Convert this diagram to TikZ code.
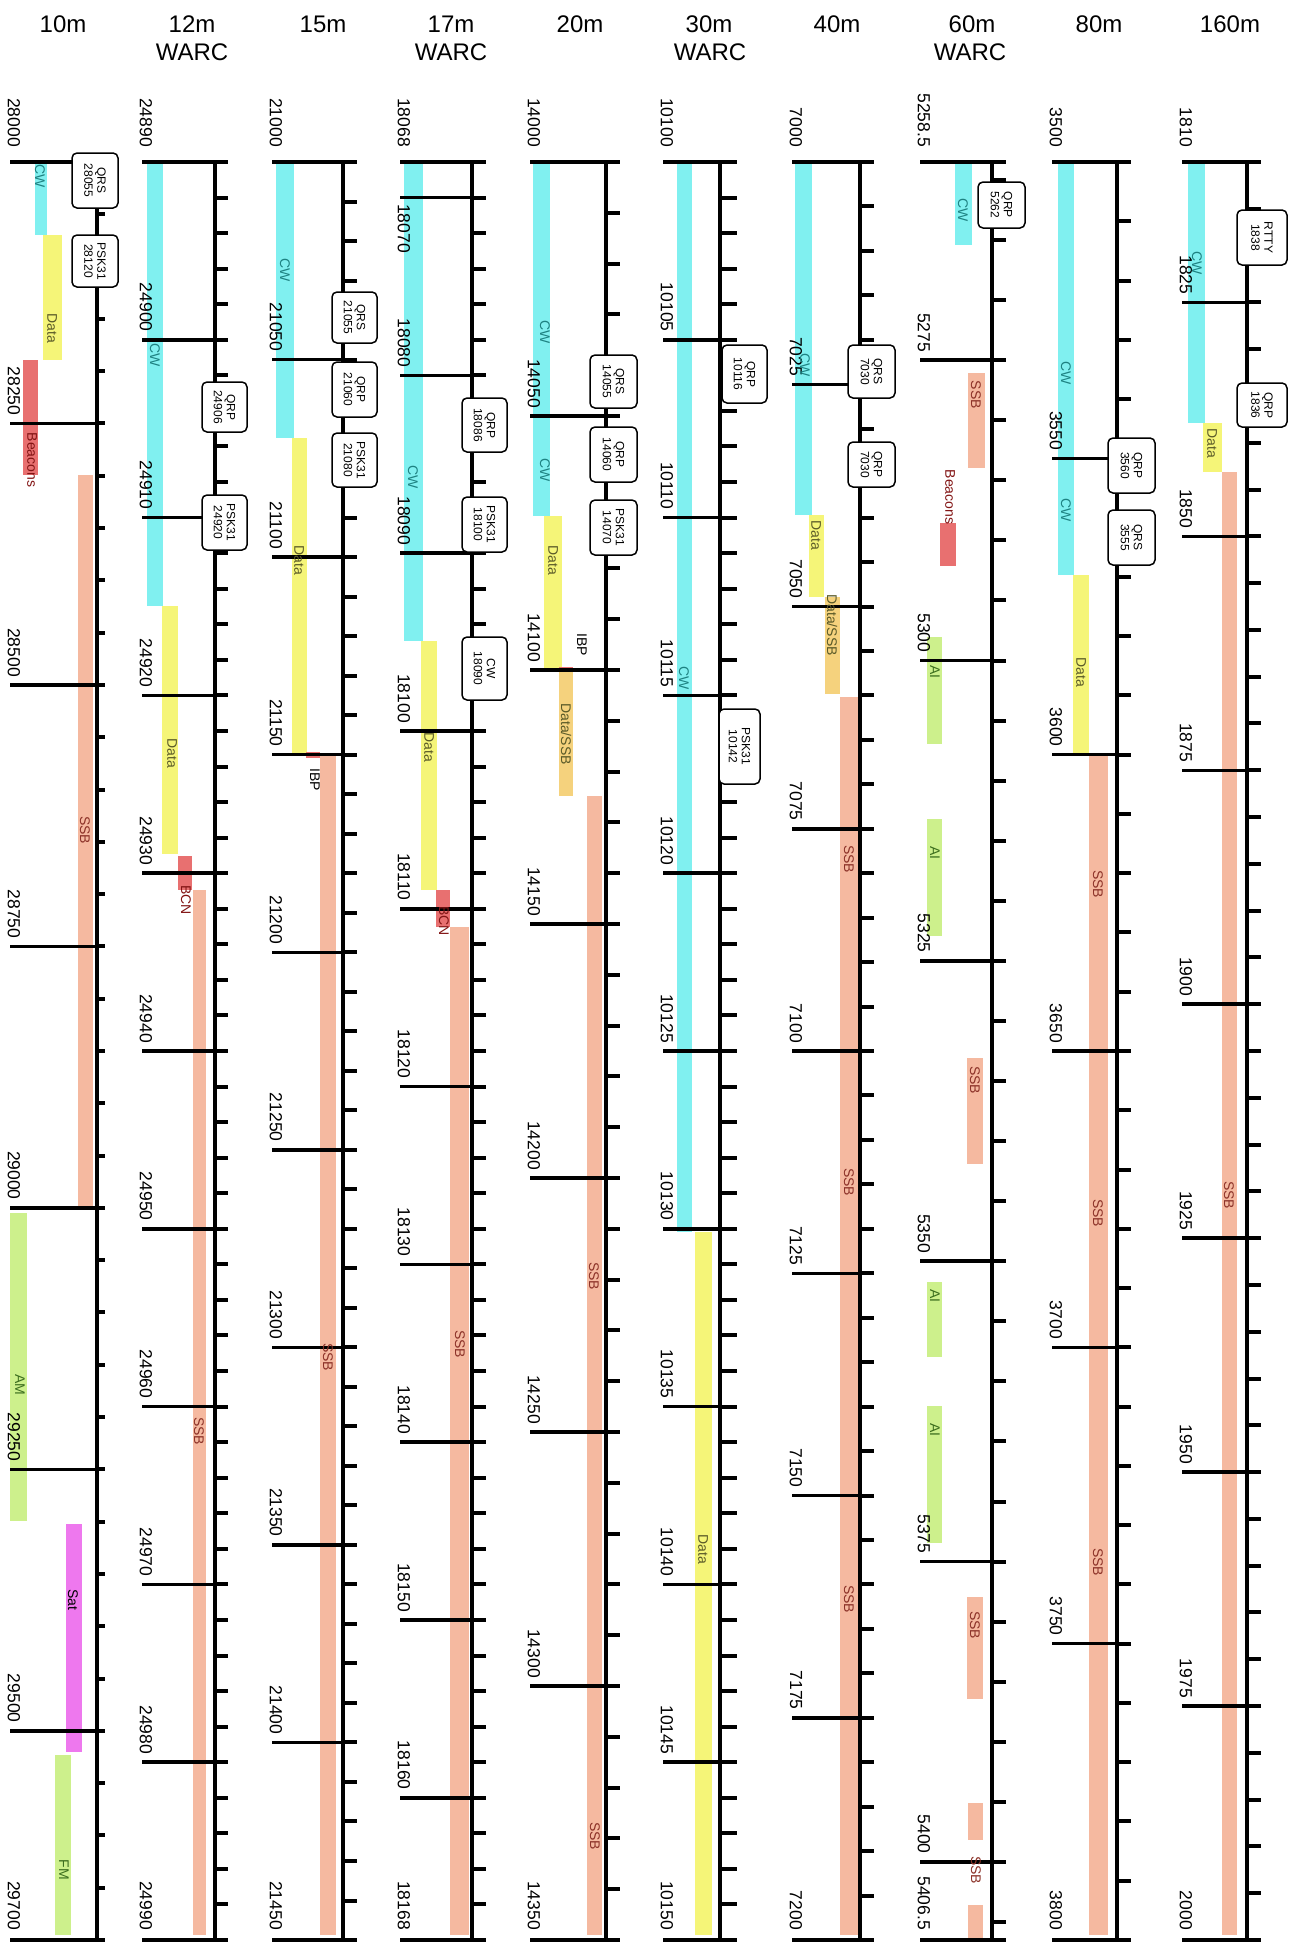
\documentclass[tikz,border=0pt]{standalone}
\usepackage{fontspec}
\setmainfont{Liberation Sans}
\setsansfont{Liberation Sans}
\definecolor{cwc}{RGB}{128,240,240}
\definecolor{dac}{RGB}{245,245,120}
\definecolor{ssc}{RGB}{245,185,160}
\definecolor{bcc}{RGB}{232,112,112}
\definecolor{amc}{RGB}{205,240,140}
\definecolor{stc}{RGB}{238,120,238}
\definecolor{dsc}{RGB}{245,210,125}
\definecolor{cwt}{RGB}{30,130,130}
\definecolor{sst}{RGB}{140,50,40}
\definecolor{bct}{RGB}{130,20,20}
\definecolor{dat}{RGB}{90,90,40}
\definecolor{amt}{RGB}{60,110,30}
\newcommand\mj[4]{\draw[mjl] (#1,#3) -- (#2,#3); \node[flab,anchor=east] at (#1+4,#3-8) {#4};}
\newcommand\qb[5]{\draw[qbox] (#1,#2) rectangle (#3,#4); \node[btxt] at ({(#1+#3)/2},{(#2+#4)/2}) {#5};}
\newcommand\colframe[6]{% axis x, left x, tick len, scale, minor list, top label
  \draw[edge] (#2,162) -- (#1+#3,162);
  \draw[edge] (#2,1940) -- (#1+#3,1940);
  \draw[axl] (#1,162) -- (#1,1940);
  \foreach \d in {#5} \draw[tk] (#1,{162+\d*#4}) -- ++(#3,0);
  \node[flab,anchor=east] at (#2+4,147) {#6};}
\begin{document}
\begin{tikzpicture}[x=1pt,y=-1pt,
  axl/.style={line width=4pt},
  edge/.style={line width=4pt},
  mjl/.style={line width=3.5pt},
  tk/.style={line width=4pt},
  head/.style={font=\fontsize{24}{26}\selectfont, inner sep=0pt},
  flab/.style={font=\fontsize{17.5}{18}\selectfont, rotate=-90, inner sep=0pt},
  blab/.style={font=\fontsize{14}{14}\selectfont, rotate=-90, inner sep=0pt},
  qbox/.style={draw, fill=white, rounded corners=5pt, line width=1.5pt},
  btxt/.style={font=\fontsize{12}{13}\selectfont, rotate=-90, align=center, inner sep=0pt},
]
\fill[white] (0,0) rectangle (1293,1951);
% headings
\node[head] (h10) at (63,24) {10m};
\node[head] (h12) at (192,24) {12m};
\node[head] (w12) at (192,52) {WARC};
\node[head] (h15) at (323,24) {15m};
\node[head] (h17) at (451,24) {17m};
\node[head] (w17) at (451,52) {WARC};
\node[head] (h20) at (580,24) {20m};
\node[head] (h30) at (709,24) {30m};
\node[head] (w30) at (710,52) {WARC};
\node[head] (h40) at (837,24) {40m};
\node[head] (h60) at (972,24) {60m};
\node[head] (w60) at (970,52) {WARC};
\node[head] (h80) at (1099,24) {80m};
\node[head] (h160) at (1230,24) {160m};

% ================= bars =================
% 10m
\fill[cwc] (35,162) rectangle (47,235);
\fill[dac] (43,235) rectangle (62,360);
\fill[bcc] (23,360) rectangle (38,475);
\fill[ssc] (78,475) rectangle (93,1208);
\fill[amc] (10,1213) rectangle (27,1521);
\fill[stc] (66,1524) rectangle (82,1752);
\fill[amc] (55,1755) rectangle (71,1935);
% 12m
\fill[cwc] (147,162) rectangle (163,606);
\fill[dac] (162,606) rectangle (178,854);
\fill[bcc] (178,856) rectangle (192,890);
\fill[ssc] (193,890) rectangle (206,1935);
% 15m
\fill[cwc] (276,162) rectangle (294,438);
\fill[dac] (292,438) rectangle (307,753);
\fill[bcc] (306,752) rectangle (320,758);
\fill[ssc] (320,755) rectangle (336,1935);
% 17m
\fill[cwc] (404,162) rectangle (423,641);
\fill[dac] (421,641) rectangle (437,890);
\fill[bcc] (436,890) rectangle (450,927);
\fill[ssc] (450,927) rectangle (469,1935);
% 20m
\fill[cwc] (533,162) rectangle (550,516);
\fill[dac] (544,516) rectangle (562,670);
\fill[bcc] (559,667) rectangle (573,673);
\fill[dsc] (559,672) rectangle (573,796);
\fill[ssc] (587,796) rectangle (602,1935);
% 30m
\fill[cwc] (677,162) rectangle (692,1232);
\fill[dac] (695,1232) rectangle (712,1935);
% 40m
\fill[cwc] (795,162) rectangle (812,515);
\fill[dac] (809,515) rectangle (824,597);
\fill[dsc] (825,597) rectangle (840,694);
\fill[ssc] (840,697) rectangle (858,1935);
% 60m
\fill[cwc] (955,162) rectangle (972,245);
\fill[ssc] (968,373) rectangle (985,468);
\fill[bcc] (940,523) rectangle (956,566);
\fill[amc] (927,637) rectangle (942,744);
\fill[amc] (927,819) rectangle (942,936);
\fill[ssc] (967,1058) rectangle (983,1164);
\fill[amc] (927,1282) rectangle (942,1357);
\fill[amc] (927,1406) rectangle (942,1543);
\fill[ssc] (967,1597) rectangle (983,1699);
\fill[ssc] (968,1803) rectangle (983,1840);
\fill[ssc] (968,1905) rectangle (983,1940);
% 80m
\fill[cwc] (1058,162) rectangle (1074,575);
\fill[dac] (1073,575) rectangle (1089,753);
\fill[ssc] (1089,755) rectangle (1108,1935);
% 160m
\fill[cwc] (1188,162) rectangle (1205,423);
\fill[dac] (1203,423) rectangle (1222,472);
\fill[ssc] (1222,472) rectangle (1237,1935);

% ================= frames =================
\colframe{97}{10}{8}{1.045882}{50,100,...,1650}{28000}
\colframe{215}{142}{13}{17.78}{2,4,...,98}{24890}
\colframe{343}{272}{14}{3.951111}{10,20,...,440}{21000}
\colframe{472}{400}{14}{17.78}{2,4,...,98}{18068}
\colframe{606}{530}{14}{5.08}{10,20,...,340}{14000}
\colframe{720}{663}{17}{35.56}{1,2,...,49}{10100}
\colframe{860}{792}{14}{8.89}{5,10,...,195}{7000}
\colframe{992}{920}{14}{12.01351}{1.5,6.5,...,146.5}{5258.5}
\colframe{1117}{1052}{14}{5.926667}{10,20,...,290}{3500}
\colframe{1247}{1182}{14}{9.357895}{5,10,...,185}{1810}

% ================= majors =================
% 10m
\mj{10}{105}{423.5}{28250}
\mj{10}{105}{685}{28500}
\mj{10}{105}{946.4}{28750}
\mj{10}{105}{1207.9}{29000}
\mj{10}{105}{1469.4}{29250}
\mj{10}{105}{1730.8}{29500}
\node[flab,anchor=east] at (14,1930) {29700};
% 12m
\mj{142}{228}{339.8}{24900}
\mj{142}{228}{517.6}{24910}
\mj{142}{228}{695.4}{24920}
\mj{142}{228}{873.2}{24930}
\mj{142}{228}{1051}{24940}
\mj{142}{228}{1228.8}{24950}
\mj{142}{228}{1406.6}{24960}
\mj{142}{228}{1584.4}{24970}
\mj{142}{228}{1762.2}{24980}
\node[flab,anchor=east] at (146,1930) {24990};
% 15m
\mj{272}{357}{359.6}{21050}
\mj{272}{357}{557.1}{21100}
\mj{272}{357}{754.7}{21150}
\mj{272}{357}{952.3}{21200}
\mj{272}{357}{1149.8}{21250}
\mj{272}{357}{1347.3}{21300}
\mj{272}{357}{1544.9}{21350}
\mj{272}{357}{1742.4}{21400}
\node[flab,anchor=east] at (276,1930) {21450};
% 17m
\draw[mjl] (400,197.6) -- (486,197.6);
\node[flab,anchor=west] at (404,204) {18070};
\mj{400}{486}{375.4}{18080}
\mj{400}{486}{553.2}{18090}
\mj{400}{486}{731}{18100}
\mj{400}{486}{908.8}{18110}
\mj{400}{486}{1086.6}{18120}
\mj{400}{486}{1264.4}{18130}
\mj{400}{486}{1442.2}{18140}
\mj{400}{486}{1620}{18150}
\mj{400}{486}{1797.8}{18160}
\node[flab,anchor=east] at (404,1930) {18168};
% 20m
\mj{530}{620}{416}{14050}
\mj{530}{620}{670}{14100}
\mj{530}{620}{924}{14150}
\mj{530}{620}{1178}{14200}
\mj{530}{620}{1432}{14250}
\mj{530}{620}{1686}{14300}
\node[flab,anchor=east] at (534,1930) {14350};
% 30m
\mj{663}{737}{339.8}{10105}
\mj{663}{737}{517.6}{10110}
\mj{663}{737}{695.4}{10115}
\mj{663}{737}{873.2}{10120}
\mj{663}{737}{1051}{10125}
\mj{663}{737}{1228.8}{10130}
\mj{663}{737}{1406.6}{10135}
\mj{663}{737}{1584.4}{10140}
\mj{663}{737}{1762.2}{10145}
\node[flab,anchor=east] at (667,1930) {10150};
% 40m
\mj{792}{874}{384.25}{7025}
\mj{792}{874}{606.5}{7050}
\mj{792}{874}{828.75}{7075}
\mj{792}{874}{1051}{7100}
\mj{792}{874}{1273.25}{7125}
\mj{792}{874}{1495.5}{7150}
\mj{792}{874}{1717.75}{7175}
\node[flab,anchor=east] at (796,1930) {7200};
% 60m
\mj{920}{1006}{360.2}{5275}
\mj{920}{1006}{660.6}{5300}
\mj{920}{1006}{960.9}{5325}
\mj{920}{1006}{1261.2}{5350}
\mj{920}{1006}{1561.6}{5375}
\mj{920}{1006}{1861.9}{5400}
\node[flab,anchor=east] at (924,1930) {5406.5};
% 80m
\mj{1052}{1131}{458.3}{3550}
\mj{1052}{1131}{754.7}{3600}
\mj{1052}{1131}{1051}{3650}
\mj{1052}{1131}{1347.3}{3700}
\mj{1052}{1131}{1643.7}{3750}
\node[flab,anchor=east] at (1056,1930) {3800};
% 160m
\mj{1182}{1261}{302.4}{1825}
\mj{1182}{1261}{536.3}{1850}
\mj{1182}{1261}{770.3}{1875}
\mj{1182}{1261}{1004.2}{1900}
\mj{1182}{1261}{1238.2}{1925}
\mj{1182}{1261}{1472.1}{1950}
\mj{1182}{1261}{1706.1}{1975}
\node[flab,anchor=east] at (1186,1930) {2000};

% ================= bar labels =================
\node[blab,text=cwt] at (40,176) {CW};
\node[blab,text=dat] at (52,328) {Data};
\node[blab,text=bct] at (32,460) {Beacons};
\node[blab,text=sst] at (85,830) {SSB};
\node[blab,text=amt] at (20,1385) {AM};
\node[blab,text=black] at (73,1600) {Sat};
\node[blab,text=amt] at (64,1870) {FM};
\node[blab,text=cwt] at (155,355) {CW};
\node[blab,text=dat] at (172,753) {Data};
\node[blab,text=bct] at (186,900) {BCN};
\node[blab,text=sst] at (199,1431) {SSB};
\node[blab,text=cwt] at (285,270) {CW};
\node[blab,text=dat] at (299,560) {Data};
\node[blab,text=black] at (315,780) {IBP};
\node[blab,text=sst] at (328,1357) {SSB};
\node[blab,text=cwt] at (413,477) {CW};
\node[blab,text=dat] at (429,747) {Data};
\node[blab,text=bct] at (444,921) {BCN};
\node[blab,text=sst] at (460,1344) {SSB};
\node[blab,text=cwt] at (545,332) {CW};
\node[blab,text=cwt] at (545,470) {CW};
\node[blab,text=dat] at (553,560) {Data};
\node[blab,text=black] at (582,645) {IBP};
\node[blab,text=dat] at (566,734) {Data/SSB};
\node[blab,text=sst] at (594,1276) {SSB};
\node[blab,text=sst] at (595,1836) {SSB};
\node[blab,text=cwt] at (684,678) {CW};
\node[blab,text=dat] at (703,1549) {Data};
\node[blab,text=cwt] at (805,365) {CW};
\node[blab,text=dat] at (816,535) {Data};
\node[blab,text=dat] at (832,625) {Data/SSB};
\node[blab,text=sst] at (849,859) {SSB};
\node[blab,text=sst] at (849,1182) {SSB};
\node[blab,text=sst] at (849,1599) {SSB};
\node[blab,text=cwt] at (963,210) {CW};
\node[blab,text=sst] at (976,395) {SSB};
\node[blab,text=bct] at (950,497) {Beacons};
\node[blab,text=amt] at (935,672) {AI};
\node[blab,text=amt] at (935,853) {AI};
\node[blab,text=sst] at (975,1080) {SSB};
\node[blab,text=amt] at (935,1296) {AI};
\node[blab,text=amt] at (935,1430) {AI};
\node[blab,text=sst] at (975,1625) {SSB};
\node[blab,text=sst] at (976,1870) {SSB};
\node[blab,text=cwt] at (1066,373) {CW};
\node[blab,text=cwt] at (1066,510) {CW};
\node[blab,text=dat] at (1081,672) {Data};
\node[blab,text=sst] at (1098,884) {SSB};
\node[blab,text=sst] at (1098,1213) {SSB};
\node[blab,text=sst] at (1098,1562) {SSB};
\node[blab,text=cwt] at (1197,263) {CW};
\node[blab,text=dat] at (1212,443) {Data};
\node[blab,text=sst] at (1229,1195) {SSB};

% ================= boxes =================
\qb{72}{153}{118}{208}{QRS\\28055}
\qb{72}{235}{118}{287}{PSK31\\28120}
\qb{202}{382}{247}{432}{QRP\\24906}
\qb{202}{495}{247}{550}{PSK31\\24920}
\qb{332}{292}{377}{343}{QRS\\21055}
\qb{332}{362}{377}{417}{QRP\\21060}
\qb{332}{433}{377}{487}{PSK31\\21080}
\qb{462}{398}{507}{452}{QRP\\18086}
\qb{462}{497}{507}{552}{PSK31\\18100}
\qb{462}{637}{507}{700}{CW\\18090}
\qb{590}{355}{637}{408}{QRS\\14055}
\qb{590}{427}{637}{482}{QRP\\14060}
\qb{590}{500}{637}{555}{PSK31\\14070}
\qb{722}{345}{767}{403}{QRP\\10116}
\qb{719}{709}{760}{784}{PSK31\\10142}
\qb{848}{345}{895}{398}{QRS\\7030}
\qb{848}{442}{895}{487}{QRP\\7030}
\qb{978}{182}{1025}{228}{QRP\\5262}
\qb{1108}{438}{1155}{493}{QRP\\3560}
\qb{1108}{510}{1155}{565}{QRS\\3555}
\qb{1237}{210}{1287}{265}{RTTY\\1838}
\qb{1237}{383}{1287}{427}{QRP\\1836}
\end{tikzpicture}
\end{document}
